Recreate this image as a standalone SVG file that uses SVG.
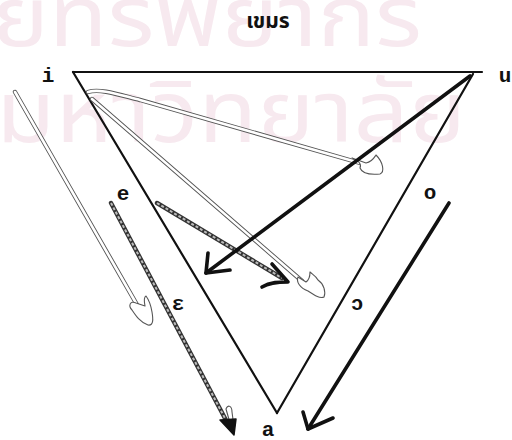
<svg xmlns="http://www.w3.org/2000/svg" width="512" height="440" viewBox="0 0 512 440">
<style>
.wm{font-family:"Noto Sans Thai","Noto Sans","DejaVu Sans",sans-serif;fill:#f7e9ef}
.lbl{font-family:"Liberation Mono","DejaVu Sans Mono",monospace;font-weight:bold;font-size:21px;fill:#111}
.edge{stroke:#111;stroke-width:2.2;fill:none;stroke-linecap:round}
.thick{stroke:#111;stroke-width:3.6;fill:none;stroke-linecap:round;stroke-linejoin:round}
.hollowO{stroke:#555;stroke-width:4.4;fill:none;stroke-linecap:round}
.hollowI{stroke:#fff;stroke-width:2.6;fill:none;stroke-linecap:round}
.hatchO{stroke:#333;stroke-width:4.4;fill:none;stroke-linecap:round}
.hatchI{stroke:#bbb;stroke-width:2;fill:none;stroke-dasharray:3 2}
.head{stroke:#555;stroke-width:1.1;fill:#fff;stroke-linejoin:round}
</style>
<rect width="512" height="440" fill="#fff"/>
<g id="watermark">
<text class="wm" x="-8" y="46" font-size="84" textLength="430" lengthAdjust="spacingAndGlyphs">ยทรพยากร</text>
<text class="wm" x="-4" y="142" font-size="86" textLength="470" lengthAdjust="spacingAndGlyphs">มหาวิทยาลัย</text>
</g>
<g id="title">
<text x="268" y="28" text-anchor="middle" font-family="'Noto Sans Thai','Noto Sans','DejaVu Sans',sans-serif" font-size="21" font-weight="bold" fill="#111">เขมร</text>
</g>
<g id="connectors">
<path class="edge" d="M73,72 L482,72"/>
<path class="edge" d="M73,72 L277,413"/>
<path class="edge" d="M473,74 L277,413"/>
<path class="hollowO" d="M15,92 L140,310"/>
<path class="hollowI" d="M15,92 L140,310"/>
<path class="head" d="M136,303 C130,300 128,306 132,310 C136,316 140,322 148,325 C154,326 153,318 152,312 C151,306 149,300 146,296 C144,297 144,301 145,306 Z"/>
<path class="hollowO" d="M88,92 C100,88 120,95 140,100 L360,163"/>
<path class="hollowI" d="M88,92 C100,88 120,95 140,100 L360,163"/>
<path class="head" d="M352,158 C358,160 362,164 360,168 C362,173 370,175 380,174 C385,172 383,162 376,155 C374,158 372,162 366,163 Z"/>
<path class="hollowO" d="M92,99 L302,281"/>
<path class="hollowI" d="M92,99 L302,281"/>
<path class="head" d="M298,277 C296,282 300,288 308,291 C314,295 320,299 324,297 C326,292 324,284 318,280 C316,276 312,274 310,272 C310,276 309,280 306,282 Z"/>
<path class="hatchO" d="M111,203 L228,424"/>
<path class="hatchI" d="M111,203 L228,424"/>
<path class="head" d="M226,409 C228,404 232,406 232,412 C233,418 234,425 232,430 Z"/>
<path d="M220,420 L236,419 L234,435 Z" fill="#111" stroke="#111" stroke-width="1.5" stroke-linejoin="round"/>
<path class="hatchO" d="M157,203 L282,278"/>
<path class="hatchI" d="M157,203 L282,278"/>
<path class="thick" d="M272,264 L288,282 C280,282 270,282 262,287"/>
<path class="thick" d="M470,76 L206,273"/>
<path class="thick" d="M208,253 L206,273 L230,270"/>
<path class="thick" d="M449,203 L308,429"/>
<path class="thick" d="M303,412 L308,429 L333,418"/>
</g>
<g id="node-i"><text class="lbl" x="48" y="82" text-anchor="middle">i</text></g>
<g id="node-u"><text class="lbl" x="505" y="82" text-anchor="middle">u</text></g>
<g id="node-e"><text class="lbl" x="123" y="200" text-anchor="middle">e</text></g>
<g id="node-o"><text class="lbl" x="430" y="199" text-anchor="middle">o</text></g>
<g id="node-eps"><text class="lbl" x="178" y="310" text-anchor="middle">ɛ</text></g>
<g id="node-open-o"><text class="lbl" x="357" y="310" text-anchor="middle">ɔ</text></g>
<g id="node-a"><text class="lbl" x="268" y="436" text-anchor="middle">a</text></g>
</svg>
